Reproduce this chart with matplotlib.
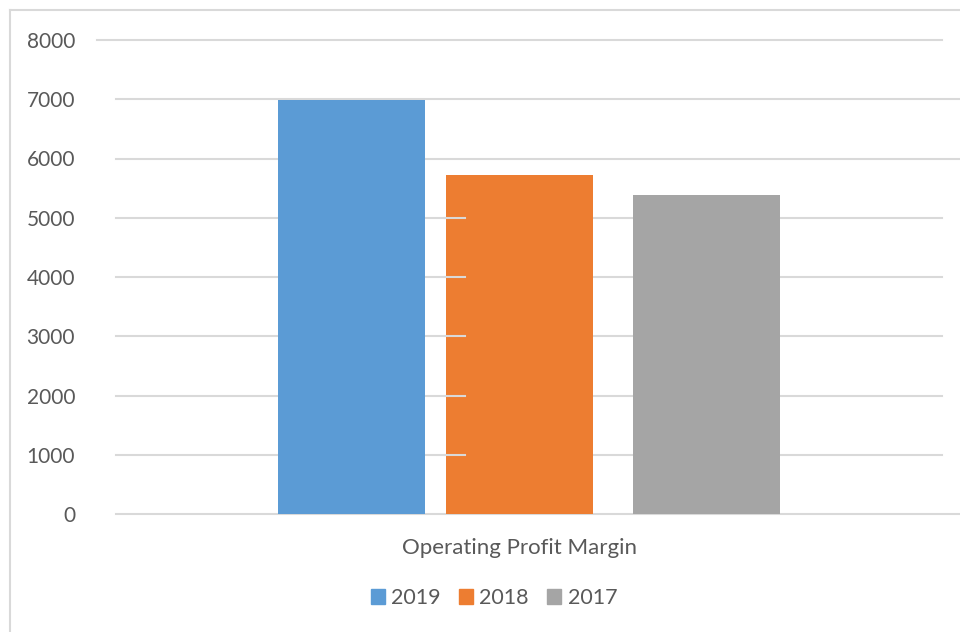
import matplotlib.pyplot as plt
from matplotlib.lines import Line2D
from matplotlib.patches import Patch

plt.rcParams['font.family'] = ['Lato', 'DejaVu Sans']

# Operating profit margin by year
years = ['2019', '2018', '2017']
values = [6980, 5720, 5385]
offsets = [-0.215, -0.012, 0.215]
colors = ['#5B9BD5', '#ED7D31', '#A5A5A5']
category = 'Operating Profit Margin'
yticks = [0, 1000, 2000, 3000, 4000, 5000, 6000, 7000, 8000]

W, H = 960, 632
fig = plt.figure(figsize=(W / 100, H / 100), dpi=100)

# plot area in pixel terms
left, right, top, bottom = 116, 942, 40, 514
ax = fig.add_axes([left / W, (H - bottom) / H, (right - left) / W, (bottom - top) / H])

grid = '#D9D9D9'
text_c = '#595959'
aw = right - left

# chart frame (cut by image edge)
fig.add_artist(Line2D([10 / W, 10 / W], [0, 1 - 10 / H], color=grid, lw=1.5))
fig.add_artist(Line2D([10 / W, 1], [1 - 10 / H, 1 - 10 / H], color=grid, lw=1.5))

# horizontal gridlines
for v in yticks:
    x0, x1 = 0, 1
    if v == 8000:
        x0 = (97 - left) / aw
    if v in (0, 6000, 7000):
        x1 = (W - left) / aw
    ax.axhline(v, x0, x1, color=grid, lw=1.5, zorder=1, clip_on=False)

for yr, v, off, c in zip(years, values, offsets, colors):
    ax.bar(off, v, width=0.178, color=c, label=yr, zorder=2)

# short gridline stubs over the left edge of the 2018 bar
for v in [1000, 2000, 3000, 4000, 5000]:
    ax.axhline(v, (445 - left) / aw, (465 - left) / aw, color=grid, lw=1.5, zorder=3)

ax.set_xlim(-0.5, 0.5)
ax.set_ylim(0, 8000)
ax.set_yticks(yticks)
ax.set_yticklabels([str(t) for t in yticks], fontsize=15, color=text_c)
ax.tick_params(axis='y', length=0, pad=29.5)
ax.set_xticks([])
for s in ax.spines.values():
    s.set_visible(False)

fig.text(519 / W, 1 - 548 / H, category, fontsize=16, color=text_c, ha='center', va='center')

handles = [Patch(color=c) for c in colors]
fig.legend(handles, years, loc='center', bbox_to_anchor=(494 / W, 1 - 598 / H), ncol=3,
           frameon=False, fontsize=15.5, labelcolor=text_c, handlelength=0.65, handleheight=0.65,
           handletextpad=0.3, columnspacing=0.85)

fig.savefig('out.png', dpi=100)
